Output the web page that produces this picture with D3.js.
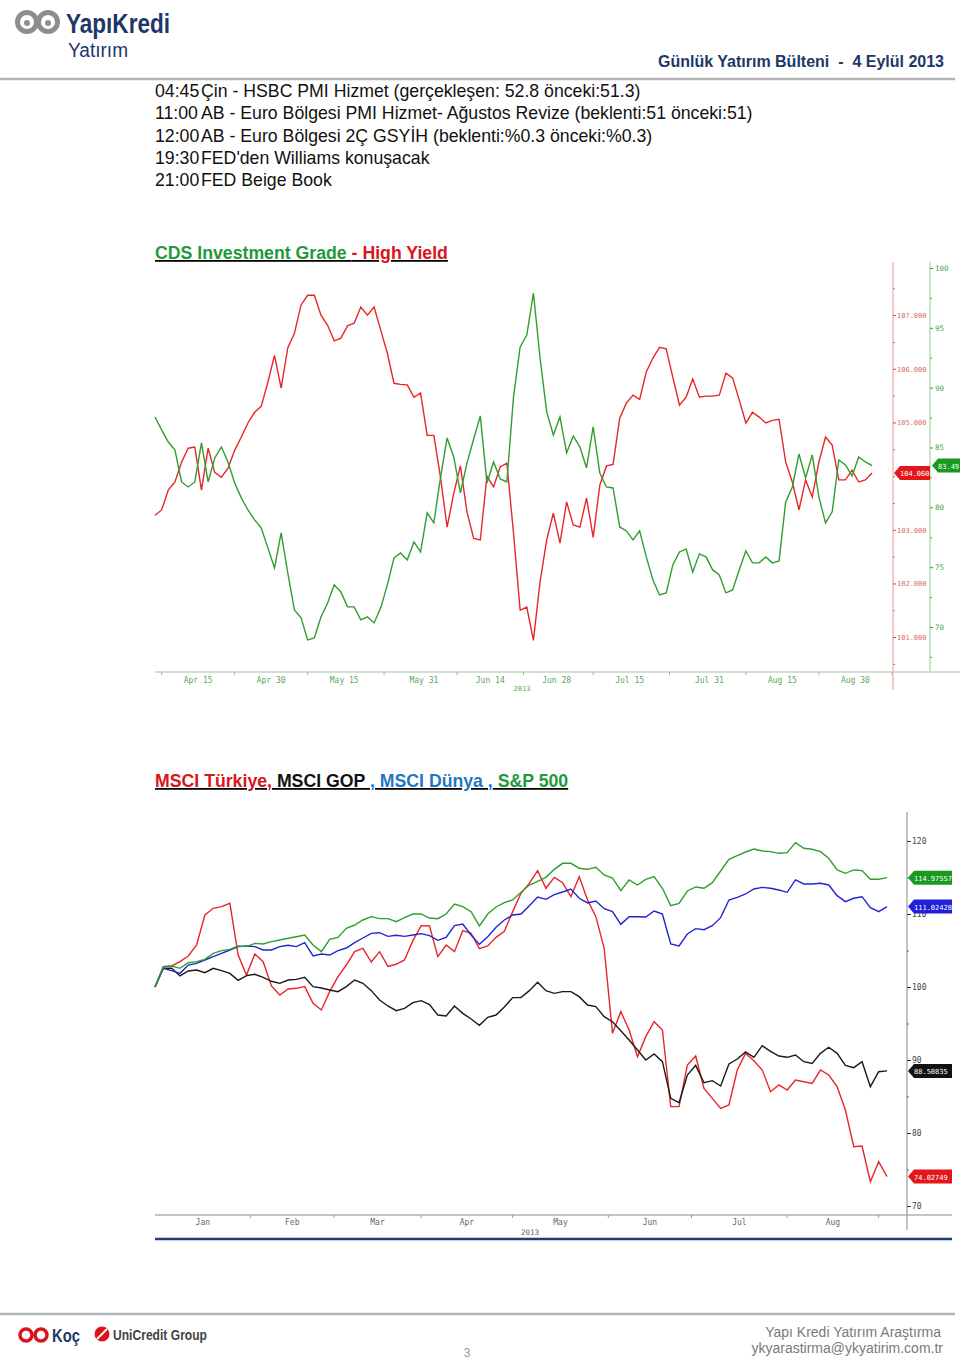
<!DOCTYPE html>
<html>
<head>
<meta charset="utf-8">
<script src="https://cdn.jsdelivr.net/npm/d3@7"></script>
<style>
  body { margin: 0; background: #fff; }
  svg { display: block; }
</style>
</head>
<body>
<div id="page"></div>
<script>
// ---- data ----

let events = [
  ['04:45', 'Çin - HSBC PMI Hizmet (gerçekleşen: 52.8 önceki:51.3)'],
  ['11:00', 'AB - Euro Bölgesi PMI Hizmet- Ağustos Revize (beklenti:51 önceki:51)'],
  ['12:00', 'AB - Euro Bölgesi 2Ç GSYİH (beklenti:%0.3 önceki:%0.3)'],
  ['19:30', "FED'den Williams konuşacak"],
  ['21:00', 'FED Beige Book']
];

// CDS chart: one value per weekday, Apr 5 - Sep 4 2013
let cdsRed = [
  103.27, 103.37, 103.74, 103.89, 104.26, 104.52, 104.54, 103.74, 104.52, 104.07,
  103.98, 104.15, 104.48, 104.73, 104.99, 105.19, 105.30, 105.75, 106.25, 105.64,
  106.39, 106.66, 107.19, 107.37, 107.37, 107.00, 106.81, 106.52, 106.57, 106.80,
  106.85, 107.15, 107.00, 107.15, 106.72, 106.29, 105.73, 105.71, 105.70, 105.47,
  105.55, 104.76, 104.76, 103.98, 103.05, 103.68, 104.19, 103.33, 102.84, 102.81,
  104.00, 103.80, 104.17, 104.24, 102.94, 101.50, 101.56, 100.94, 102.03, 102.81,
  103.31, 102.75, 103.52, 103.09, 103.05, 103.59, 102.86, 103.83, 104.19, 104.22,
  105.08, 105.36, 105.51, 105.43, 105.94, 106.20, 106.40, 106.37, 105.84, 105.32,
  105.47, 105.81, 105.47, 105.49, 105.49, 105.51, 105.92, 105.83, 105.42, 104.99,
  105.19, 105.10, 104.99, 105.04, 105.06, 104.26, 103.89, 103.37, 103.93, 103.61,
  104.26, 104.73, 104.58, 103.93, 103.93, 104.11, 103.89, 103.93, 104.06
];
let cdsGreen = [
  87.55, 86.47, 85.46, 84.80, 82.12, 81.70, 82.12, 85.38, 82.12, 84.13,
  85.05, 83.79, 82.04, 80.79, 79.78, 78.95, 78.28, 76.61, 74.94, 77.86,
  74.52, 71.43, 70.76, 68.92, 69.09, 70.84, 72.01, 73.52, 72.93, 71.68,
  71.68, 70.59, 70.84, 70.34, 71.60, 73.52, 75.77, 76.19, 75.61, 77.11,
  76.27, 79.53, 78.70, 82.46, 85.80, 84.21, 81.20, 83.71, 85.71, 87.64,
  82.04, 83.79, 82.37, 82.12, 89.22, 93.40, 94.40, 97.91, 92.48, 87.97,
  86.05, 87.55, 84.54, 85.96, 85.05, 83.29, 86.72, 82.87, 81.70, 81.62,
  78.36, 78.03, 77.28, 78.03, 75.86, 73.93, 72.68, 72.85, 75.19, 76.27,
  76.52, 74.60, 76.11, 75.86, 74.77, 74.35, 72.85, 73.10, 74.77, 76.36,
  75.36, 75.36, 75.86, 75.36, 75.52, 80.45, 81.70, 84.46, 82.46, 84.38,
  80.87, 78.70, 79.62, 83.96, 83.54, 82.62, 84.21, 83.79, 83.49
];
let cdsRedLast = '104.060';
let cdsGreenLast = '83.49';
// weekday index of each date label
let cdsLabels = [
  ['Apr 15', 6], ['Apr 30', 17], ['May 15', 28], ['May 31', 40], ['Jun 14', 50],
  ['Jun 28', 60], ['Jul 15', 71], ['Jul 31', 83], ['Aug 15', 94], ['Aug 30', 105]
];
// 104 sits under the last-value tag, so it only gets a tick mark
let cdsRedTicks = [101, 102, 103, 105, 106, 107];
let cdsRedMarks = [100.5, 101.5, 102.5, 103.5, 104, 104.5, 105.5, 106.5, 107.5];
let cdsGreenTicks = [70, 75, 80, 85, 90, 95, 100];

// MSCI chart: rebased to 100, one value every 2 weekdays from Jan 1 2013
let msciStep = 2;
let msciTurkey = [
  100.00, 102.79, 102.88, 103.47, 104.25, 105.75, 109.86, 110.78, 111.00, 111.46,
  104.38, 101.64, 104.52, 103.47, 100.14, 98.90, 99.73, 99.82, 100.05, 97.76,
  96.85, 99.36, 101.42, 103.01, 104.84, 105.30, 103.42, 104.84, 102.83, 103.11,
  103.70, 106.35, 108.40, 108.36, 104.16, 105.75, 104.84, 107.72, 107.35, 105.25,
  105.62, 106.80, 107.63, 110.32,
  112.83, 114.20, 115.94, 113.52, 115.02, 114.29, 112.37, 115.11, 111.92, 109.63,
  105.30, 93.65, 96.62, 94.11, 90.46, 93.20, 95.25, 94.11, 83.61, 83.61,
  89.32, 90.55, 86.12, 84.75, 83.38, 83.84, 88.63, 90.91, 89.91, 88.63,
  85.66, 86.58, 85.89, 87.26, 87.03, 86.80, 88.63, 87.95, 86.35, 83.15,
  78.13, 78.22, 73.33, 76.07, 74.03
];
let msciGop = [
  100.00, 102.56, 102.56, 101.51, 102.19, 102.33, 101.96, 102.56, 102.24, 101.87,
  100.91, 101.55, 101.74, 101.32, 100.78, 100.50, 100.96, 101.05, 101.32, 100.05,
  99.86, 99.59, 99.36, 100.05, 100.96, 100.50, 99.50, 98.22, 97.40, 96.76,
  97.08, 97.85, 98.13, 97.58, 96.16, 96.03, 97.40, 96.39, 95.62, 94.75,
  95.84, 96.16, 97.26, 98.54,
  98.54, 99.50, 100.64, 99.50, 99.13, 99.36, 99.36, 98.68, 97.53, 97.31,
  95.94, 95.25, 94.02, 92.74, 91.37, 90.00, 90.82, 89.77, 84.75, 84.16,
  87.95, 89.27, 86.89, 87.17, 86.44, 89.45, 90.14, 91.10, 90.37, 91.96,
  91.19, 90.55, 90.37, 90.68, 89.77, 89.54, 90.91, 91.74, 90.91, 89.27,
  88.95, 89.77, 86.35, 88.40, 88.51
];
let msciWorld = [
  100.00, 102.56, 102.24, 101.87, 103.01, 103.24, 103.70, 104.16, 104.61, 105.07,
  105.53, 105.62, 105.53, 105.07, 105.07, 105.53, 105.71, 105.53, 106.07, 104.25,
  104.52, 104.38, 104.98, 105.34, 106.07, 106.71, 107.35, 107.44, 106.94, 107.08,
  106.94, 107.12, 107.31, 107.03, 106.39, 106.80, 108.40, 108.63, 107.12, 105.84,
  106.89, 108.17, 109.18, 109.86,
  110.00, 111.14, 112.33, 112.01, 112.65, 113.01, 113.42, 112.15, 111.51, 111.78,
  110.73, 110.32, 108.58, 109.63, 109.63, 109.59, 110.41, 110.00, 105.89, 105.62,
  107.26, 107.99, 107.85, 108.40, 109.50, 111.92, 112.28, 112.74, 113.42, 113.65,
  113.52, 113.29, 112.97, 114.66, 114.11, 114.11, 114.20, 113.97, 112.51, 111.69,
  112.15, 112.37, 110.87, 110.32, 111.02
];
let sp500 = [
  100.00, 102.79, 102.88, 102.56, 103.33, 103.47, 103.79, 104.61, 104.98, 105.16,
  105.62, 105.53, 105.98, 105.89, 106.21, 106.44, 106.67, 106.89, 107.12, 105.75,
  104.84, 106.53, 106.80, 108.04, 108.49, 109.18, 109.63, 109.36, 109.36, 108.95,
  109.50, 110.00, 110.00, 109.45, 109.36, 110.00, 111.37, 111.00, 110.32, 108.36,
  110.00, 110.96, 111.55, 111.92,
  112.97, 113.97, 114.47, 115.02, 116.12, 116.94, 116.94, 116.26, 116.12, 116.39,
  115.34, 114.93, 113.20, 114.66, 113.97, 114.75, 115.11, 113.52, 111.14, 111.46,
  113.15, 113.70, 113.52, 114.29, 115.89, 117.49, 117.99, 118.49, 118.90, 118.63,
  118.54, 118.31, 118.40, 119.77, 119.00, 118.86, 118.54, 117.63, 116.03, 115.57,
  116.03, 115.94, 114.75, 114.75, 114.98
];
let msciLast = ['74.02749', '88.50835', '111.02428', '114.97557'];
// month name, first weekday index, last weekday index (from Jan 1)
let msciMonths = [
  ['Jan', 0, 23], ['Feb', 23, 43], ['Mar', 43, 64], ['Apr', 64, 86],
  ['May', 86, 109], ['Jun', 109, 129], ['Jul', 129, 152], ['Aug', 152, 174]
];
let msciTicks = [70, 80, 90, 100, 110, 120];
let msciMinor = [75, 85, 95, 105, 115];

// ---- page ----

let font = "'Liberation Sans', Arial, sans-serif";
let mono = "'DejaVu Sans Mono', monospace";
let navy = '#1d3769';

let svg = d3.select('#page')
  .append('svg')
  .attr('width', 960)
  .attr('height', 1360)
  .style('font-family', font);

// header logo
let logo = svg.append('g');
logo.append('circle').attr('cx', 27).attr('cy', 22).attr('r', 9.5)
  .attr('fill', 'none').attr('stroke', '#8d8d8d').attr('stroke-width', 5);
logo.append('circle').attr('cx', 48).attr('cy', 22).attr('r', 9.5)
  .attr('fill', 'none').attr('stroke', '#8d8d8d').attr('stroke-width', 5);
logo.append('circle').attr('cx', 27).attr('cy', 23).attr('r', 3)
  .attr('fill', '#8d8d8d');
logo.append('circle').attr('cx', 48).attr('cy', 23).attr('r', 3)
  .attr('fill', '#8d8d8d');
logo.append('text').attr('x', 66).attr('y', 33)
  .attr('font-size', 27).attr('font-weight', 'bold').attr('fill', navy)
  .attr('textLength', 104).attr('lengthAdjust', 'spacingAndGlyphs')
  .text('YapıKredi');
logo.append('text').attr('x', 68).attr('y', 57)
  .attr('font-size', 20).attr('fill', navy)
  .attr('textLength', 60).attr('lengthAdjust', 'spacingAndGlyphs')
  .text('Yatırım');

svg.append('text').attr('x', 944).attr('y', 67)
  .attr('text-anchor', 'end').attr('font-size', 16).attr('font-weight', 'bold')
  .attr('fill', navy)
  .text('Günlük Yatırım Bülteni  -  4 Eylül 2013')
  .style('white-space', 'pre');

svg.append('line').attr('x1', 0).attr('x2', 955).attr('y1', 79).attr('y2', 79)
  .attr('stroke', '#b4b4b4').attr('stroke-width', 2.5);

// event list
let ev = svg.append('g').attr('font-size', 17.7).attr('fill', '#111');
events.forEach((e, i) => {
  ev.append('text').attr('x', 155).attr('y', 97 + i * 22.3).text(e[0]);
  ev.append('text').attr('x', 201).attr('y', 97 + i * 22.3).text(e[1]);
});

// ---- CDS chart ----

let cdsTop = 262, cdsBottom = 672;
let x1 = d3.scaleLinear().domain([0, cdsRed.length - 1]).range([155, 872]);
let yRed = d3.scaleLinear().domain([100.35, 107.99]).range([cdsBottom, cdsTop]);
let yGreen = d3.scaleLinear().domain([66.24, 100.5]).range([cdsBottom, cdsTop]);

let t1 = svg.append('text').attr('x', 155).attr('y', 259)
  .attr('font-size', 17.7).attr('font-weight', 'bold')
  .style('text-decoration', 'underline').style('white-space', 'pre');
t1.append('tspan').attr('fill', '#1f9a3a').text('CDS Investment Grade ');
t1.append('tspan').attr('fill', '#d9141b').text('- High Yield');

let cds = svg.append('g');

// x axis
cds.append('line').attr('x1', 155).attr('x2', 960)
  .attr('y1', cdsBottom).attr('y2', cdsBottom)
  .attr('stroke', '#b9dcb9').attr('stroke-width', 1.5);
let labelX = cdsLabels.map(d => x1(d[1] + 0.5));
let step1 = labelX[1] - labelX[0];
let tickX = [labelX[0] - step1 / 2];
for (let i = 1; i < labelX.length; i++) tickX.push((labelX[i - 1] + labelX[i]) / 2);
tickX.push(labelX[labelX.length - 1] + step1 / 2);
cds.selectAll('.xt').data(tickX).enter().append('line')
  .attr('x1', d => d).attr('x2', d => d)
  .attr('y1', cdsBottom).attr('y2', cdsBottom + 3)
  .attr('stroke', '#8cc48c');
cds.selectAll('.xl').data(cdsLabels).enter().append('text')
  .attr('x', d => x1(d[1] + 0.5)).attr('y', cdsBottom + 11)
  .attr('text-anchor', 'middle').attr('font-family', mono).attr('font-size', 8)
  .attr('fill', '#5aa85a').text(d => d[0]);
cds.append('text').attr('x', 522).attr('y', 691)
  .attr('text-anchor', 'middle').attr('font-family', mono).attr('font-size', 7)
  .attr('fill', '#5aa85a').text('2013');

// red (left) value axis
cds.append('line').attr('x1', 893).attr('x2', 893)
  .attr('y1', cdsTop).attr('y2', 690)
  .attr('stroke', '#f2b9b9').attr('stroke-width', 1.5);
let redAxis = cds.append('g').attr('transform', 'translate(893,0)')
  .call(d3.axisRight(yRed).tickValues(cdsRedTicks).tickSize(3).tickSizeOuter(0)
    .tickFormat(d3.format('.3f')));
redAxis.select('.domain').remove();
redAxis.selectAll('line').attr('stroke', '#d83a3a');
redAxis.selectAll('text').attr('font-family', mono).attr('font-size', 7)
  .attr('fill', '#d86a6a').attr('x', 4);
let redMinor = cds.append('g').attr('transform', 'translate(893,0)')
  .call(d3.axisRight(yRed).tickValues(cdsRedMarks).tickSize(2)
    .tickSizeOuter(0).tickFormat(''));
redMinor.select('.domain').remove();
redMinor.selectAll('line').attr('stroke', '#d86a6a');

// green (right) value axis
cds.append('line').attr('x1', 930).attr('x2', 930)
  .attr('y1', cdsTop).attr('y2', cdsBottom)
  .attr('stroke', '#b9dcb9').attr('stroke-width', 1.5);
let greenAxis = cds.append('g').attr('transform', 'translate(930,0)')
  .call(d3.axisRight(yGreen).tickValues(cdsGreenTicks).tickSize(3).tickSizeOuter(0));
greenAxis.select('.domain').remove();
greenAxis.selectAll('line').attr('stroke', '#2e9a2e');
greenAxis.selectAll('text').attr('font-family', mono).attr('font-size', 7.5)
  .attr('fill', '#4aa44a').attr('x', 5);
let greenMinor = cds.append('g').attr('transform', 'translate(930,0)')
  .call(d3.axisRight(yGreen).tickValues(d3.range(67.5, 100, 5)).tickSize(2)
    .tickSizeOuter(0).tickFormat(''));
greenMinor.select('.domain').remove();
greenMinor.selectAll('line').attr('stroke', '#4aa44a');

// lines
cds.append('path').datum(cdsRed)
  .attr('fill', 'none').attr('stroke', '#e8262a').attr('stroke-width', 1.4)
  .attr('d', d3.line().x((d, i) => x1(i)).y(d => yRed(d)));
cds.append('path').datum(cdsGreen)
  .attr('fill', 'none').attr('stroke', '#2f9e2f').attr('stroke-width', 1.4)
  .attr('d', d3.line().x((d, i) => x1(i)).y(d => yGreen(d)));

// last value tags
function tag(g, x, y, w, fill, label, size) {
  g.append('path')
    .attr('d', `M${x},${y} L${x + 6},${y - 7} L${x + w},${y - 7} L${x + w},${y + 7} L${x + 6},${y + 7} Z`)
    .attr('fill', fill);
  g.append('text').attr('x', x + 6).attr('y', y + 3)
    .attr('font-family', mono).attr('font-size', size)
    .attr('fill', '#fff').text(label);
}
tag(cds, 894, yRed(cdsRed[cdsRed.length - 1]), 36, '#e3161c', cdsRedLast, 7);
tag(cds, 932, yGreen(cdsGreen[cdsGreen.length - 1]), 28, '#199a1f', cdsGreenLast, 7);

// ---- MSCI chart ----

let msTop = 812, msBottom = 1215;
let x2 = d3.scaleLinear().domain([0, 176]).range([155, 887]);
let y2 = d3.scaleLinear().domain([68.77, 123.97]).range([msBottom, msTop]);

let t2 = svg.append('text').attr('x', 155).attr('y', 787)
  .attr('font-size', 17.7).attr('font-weight', 'bold')
  .style('text-decoration', 'underline').style('white-space', 'pre');
t2.append('tspan').attr('fill', '#d9141b').text('MSCI Türkiye,');
t2.append('tspan').attr('fill', '#111').text(' MSCI GOP ');
t2.append('tspan').attr('fill', '#1f77c4').text(', MSCI Dünya ,');
t2.append('tspan').attr('fill', '#1f9a3a').text(' S&P 500');

let ms = svg.append('g');

ms.append('line').attr('x1', 155).attr('x2', 952)
  .attr('y1', msBottom).attr('y2', msBottom)
  .attr('stroke', '#b0b0b0').attr('stroke-width', 1.5);
ms.selectAll('.mt').data(msciMonths.slice(1).map(d => d[1]).concat([174])).enter()
  .append('line')
  .attr('x1', d => x2(d)).attr('x2', d => x2(d))
  .attr('y1', msBottom).attr('y2', msBottom + 3)
  .attr('stroke', '#999');
ms.selectAll('.ml').data(msciMonths).enter().append('text')
  .attr('x', d => x2((d[1] + d[2]) / 2)).attr('y', msBottom + 10)
  .attr('text-anchor', 'middle').attr('font-family', mono).attr('font-size', 8)
  .attr('fill', '#666').text(d => d[0]);
ms.append('text').attr('x', 530).attr('y', msBottom + 20)
  .attr('text-anchor', 'middle').attr('font-family', mono).attr('font-size', 7.5)
  .attr('fill', '#666').text('2013');
ms.append('line').attr('x1', 155).attr('x2', 952)
  .attr('y1', 1239).attr('y2', 1239)
  .attr('stroke', '#1f3f73').attr('stroke-width', 2.5);

ms.append('line').attr('x1', 907).attr('x2', 907)
  .attr('y1', msTop).attr('y2', 1230)
  .attr('stroke', '#9a9a9a').attr('stroke-width', 1.2);
let msAxis = ms.append('g').attr('transform', 'translate(907,0)')
  .call(d3.axisRight(y2).tickValues(msciTicks).tickSize(4).tickSizeOuter(0));
msAxis.select('.domain').remove();
msAxis.selectAll('line').attr('stroke', '#333');
msAxis.selectAll('text').attr('font-family', mono).attr('font-size', 8)
  .attr('fill', '#444').attr('x', 5);
let msMinor = ms.append('g').attr('transform', 'translate(907,0)')
  .call(d3.axisRight(y2).tickValues(msciMinor).tickSize(2).tickSizeOuter(0).tickFormat(''));
msMinor.select('.domain').remove();
msMinor.selectAll('line').attr('stroke', '#666');

let msSeries = [
  { values: msciTurkey, color: '#e8262a', tag: '#e3161c' },
  { values: msciGop, color: '#1a1a1a', tag: '#111' },
  { values: msciWorld, color: '#2323d2', tag: '#2020d8' },
  { values: sp500, color: '#2f9e2f', tag: '#199a1f' }
];
let msLine = d3.line().x((d, i) => x2(i * msciStep)).y(d => y2(d));
msSeries.forEach(s => {
  ms.append('path').datum(s.values)
    .attr('fill', 'none').attr('stroke', s.color).attr('stroke-width', 1.4)
    .attr('d', msLine);
});
msSeries.forEach((s, i) => {
  tag(ms, 908, y2(s.values[s.values.length - 1]), 44, s.tag, msciLast[i], 7);
});

// ---- footer ----

svg.append('line').attr('x1', 0).attr('x2', 955).attr('y1', 1314).attr('y2', 1314)
  .attr('stroke', '#b4b4b4').attr('stroke-width', 2.5);

let koc = svg.append('g');
koc.append('circle').attr('cx', 26).attr('cy', 1335).attr('r', 6)
  .attr('fill', 'none').attr('stroke', '#d9141b').attr('stroke-width', 3.5);
koc.append('circle').attr('cx', 41).attr('cy', 1335).attr('r', 6)
  .attr('fill', 'none').attr('stroke', '#d9141b').attr('stroke-width', 3.5);
koc.append('text').attr('x', 52).attr('y', 1342).attr('font-size', 19)
  .attr('font-weight', 'bold').attr('fill', navy)
  .attr('textLength', 28).attr('lengthAdjust', 'spacingAndGlyphs').text('Koç');
koc.append('circle').attr('cx', 102).attr('cy', 1334).attr('r', 7.5).attr('fill', '#d9141b');
koc.append('path').attr('d', 'M97,1339 L107,1329').attr('stroke', '#fff').attr('stroke-width', 2);
koc.append('text').attr('x', 113).attr('y', 1340).attr('font-size', 15)
  .attr('font-weight', 'bold').attr('fill', '#444')
  .attr('textLength', 94).attr('lengthAdjust', 'spacingAndGlyphs').text('UniCredit Group');

svg.append('text').attr('x', 467).attr('y', 1357).attr('text-anchor', 'middle')
  .attr('font-size', 12).attr('fill', '#999').text('3');
svg.append('text').attr('x', 941).attr('y', 1337).attr('text-anchor', 'end')
  .attr('font-size', 14).attr('fill', '#7a7a7a').text('Yapı Kredi Yatırım Araştırma');
svg.append('text').attr('x', 943).attr('y', 1353).attr('text-anchor', 'end')
  .attr('font-size', 14).attr('fill', '#7a7a7a').text('ykyarastirma@ykyatirim.com.tr');
</script>
</body>
</html>
